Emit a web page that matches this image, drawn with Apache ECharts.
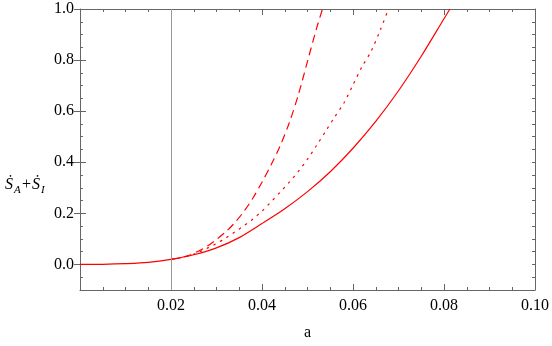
<!DOCTYPE html>
<html>
<head>
<meta charset="utf-8">
<script src="https://cdn.jsdelivr.net/npm/echarts@6/dist/echarts.min.js"></script>
<style>html,body{margin:0;padding:0;background:#fff;}#c{width:552px;height:346px;}</style>
</head>
<body>
<div id="c"></div>
<script>
// ---- data ----
const solidA = [0, 0.005, 0.01, 0.015, 0.02, 0.025, 0.03, 0.035, 0.04, 0.045, 0.05, 0.055, 0.06, 0.065, 0.07, 0.075, 0.08, 0.0813];
const solidS = [0, 0.0005, 0.003, 0.008, 0.02, 0.038, 0.065, 0.105, 0.16, 0.218, 0.285, 0.363, 0.455, 0.56, 0.68, 0.815, 0.962, 1.0];

const dashA = [0.02, 0.022, 0.024, 0.026, 0.028, 0.030, 0.032, 0.034, 0.036, 0.038, 0.040, 0.042, 0.044, 0.046, 0.048, 0.050, 0.052, 0.0533];
const dashS = [0.02, 0.026, 0.036, 0.052, 0.072, 0.098, 0.127, 0.163, 0.207, 0.26, 0.322, 0.39, 0.465, 0.555, 0.665, 0.795, 0.925, 1.0];

const dotA = [0.02, 0.022, 0.024, 0.026, 0.028, 0.030, 0.032, 0.034, 0.036, 0.038, 0.040, 0.042, 0.044, 0.046, 0.048, 0.050, 0.052, 0.054, 0.056, 0.058, 0.060, 0.062, 0.064, 0.066, 0.0678];
const dotS = [0.02, 0.026, 0.034, 0.047, 0.064, 0.082, 0.103, 0.127, 0.151, 0.178, 0.209, 0.245, 0.283, 0.322, 0.364, 0.412, 0.466, 0.522, 0.578, 0.632, 0.703, 0.775, 0.835, 0.918, 1.0];

const xTickLabels = [0.02, 0.04, 0.06, 0.08, 0.10];
const yTickLabels = [0.0, 0.2, 0.4, 0.6, 0.8, 1.0];
const refLineA = 0.02;
const xName = 'a';

// ---- chart ----
const pairs = (a, s) => a.map((v, i) => [v, s[i]]);
const FONT = 'Liberation Serif';
const FRAME = '#666';
const RED = '#ff0000';

const baseX = {
  type: 'value', min: 0, max: 0.1, interval: 0.02,
  axisLine: { show: true, onZero: false, lineStyle: { color: FRAME, width: 1 } },
  axisTick: { show: true, inside: true, length: 6, lineStyle: { color: FRAME } },
  minorTick: { show: true, splitNumber: 4, length: 3, lineStyle: { color: FRAME } },
  splitLine: { show: false }, minorSplitLine: { show: false }
};
const yMinor = {
  type: 'value', min: -0.1, max: 1.0, interval: 0.05,
  axisLine: { show: true, onZero: false, lineStyle: { color: FRAME, width: 1 } },
  axisTick: { show: true, inside: true, length: 3, lineStyle: { color: FRAME } },
  axisLabel: { show: false }, splitLine: { show: false }
};
const yMajor = {
  type: 'value', min: -0.1, max: 1.0,
  axisLine: { show: false },
  axisTick: { show: true, inside: true, length: 6, customValues: yTickLabels, lineStyle: { color: FRAME } },
  splitLine: { show: false }
};

const option = {
  animation: false,
  backgroundColor: '#fff',
  grid: { left: 80, right: 15, top: 9, bottom: 54, containLabel: false },
  xAxis: [
    Object.assign({}, baseX, {
      position: 'bottom',
      name: xName, nameLocation: 'middle', nameGap: 35,
      nameTextStyle: { fontFamily: FONT, fontSize: 16, color: '#000' },
      axisLabel: { show: true, customValues: xTickLabels, margin: 8,
        fontFamily: FONT, fontSize: 16, color: '#000', formatter: v => v.toFixed(2) }
    }),
    Object.assign({}, baseX, { position: 'top', axisLabel: { show: false } })
  ],
  yAxis: [
    Object.assign({}, yMinor, { position: 'left' }),
    Object.assign({}, yMajor, { position: 'left',
      axisLabel: { show: true, customValues: yTickLabels, margin: 6,
        fontFamily: FONT, fontSize: 16, color: '#000', formatter: v => v.toFixed(1) } }),
    Object.assign({}, yMinor, { position: 'right' }),
    Object.assign({}, yMajor, { position: 'right', axisLabel: { show: false } })
  ],
  graphic: [
    { type: 'text', left: 5, top: 177, style: { text: '\u1E60', font: 'italic 16px "Liberation Serif"', fill: '#000' } },
    { type: 'text', left: 14, top: 185, style: { text: 'A', font: 'italic 11px "Liberation Serif"', fill: '#000' } },
    { type: 'text', left: 22, top: 177, style: { text: '+', font: '16px "Liberation Serif"', fill: '#000' } },
    { type: 'text', left: 32, top: 177, style: { text: '\u1E60', font: 'italic 16px "Liberation Serif"', fill: '#000' } },
    { type: 'text', left: 41, top: 185, style: { text: 'I', font: 'italic 11px "Liberation Serif"', fill: '#000' } }
  ],
  series: [
    {
      type: 'line', xAxisIndex: 0, yAxisIndex: 0, data: pairs(solidA, solidS),
      showSymbol: false, smooth: 0.3, clip: true,
      lineStyle: { color: RED, width: 1.2, type: 'solid' },
      markLine: {
        silent: true, symbol: ['none', 'none'], label: { show: false },
        lineStyle: { color: '#999', width: 1, type: 'solid' },
        data: [{ xAxis: refLineA }]
      }
    },
    {
      type: 'line', xAxisIndex: 0, yAxisIndex: 0, data: pairs(dashA, dashS),
      showSymbol: false, smooth: 0.3, clip: true,
      lineStyle: { color: RED, width: 1.2, type: [8, 5] }
    },
    {
      type: 'line', xAxisIndex: 0, yAxisIndex: 0, data: pairs(dotA, dotS),
      showSymbol: false, smooth: 0.3, clip: true,
      lineStyle: { color: RED, width: 1.2, type: [2.5, 5] }
    }
  ]
};
const chart = echarts.init(document.getElementById('c'), null, { renderer: 'canvas' });
chart.setOption(option);
</script>
</body>
</html>
